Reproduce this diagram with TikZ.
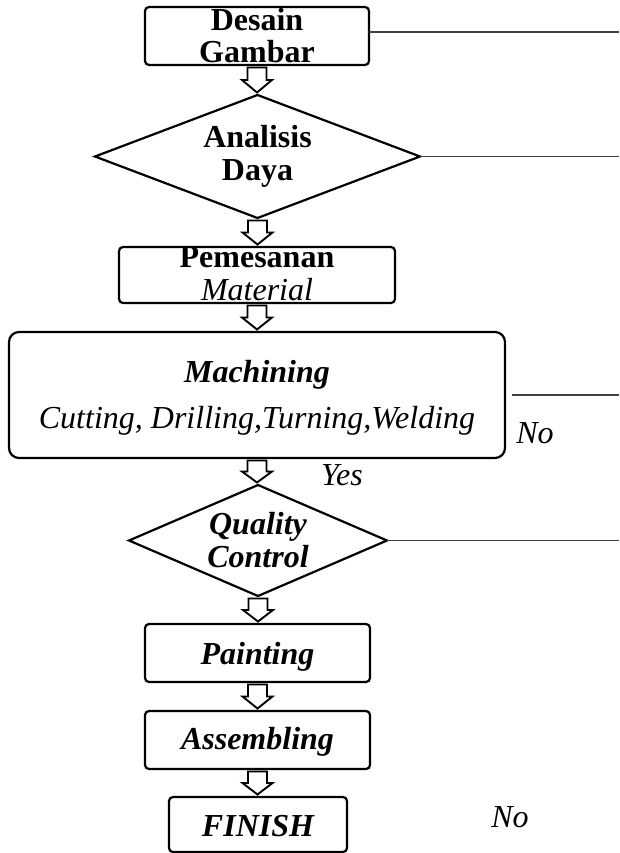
\documentclass[tikz,border=0pt]{standalone}
\usepackage{fontspec}
\setmainfont{Liberation Serif}
\usetikzlibrary{shapes.geometric,calc}
\tikzset{
  txt/.style={font=\fontsize{32}{33}\selectfont},
  procbox/.style={inner sep=0pt, outer sep=0pt, align=center, draw, line width=2.2pt, rounded corners=4pt},
  decision/.style={inner sep=0pt, outer sep=0pt, align=center, diamond, aspect=2.5, draw, line width=2.2pt},
  link/.style={draw=black!75, line width=1.1pt},
  blockarrow/.style={draw, line width=1.9pt, fill=white, line join=miter},
  lbl/.style={inner sep=0pt, anchor=base, font=\fontsize{32}{33}\selectfont\itshape},
}
\newcommand\flowarrow[2]{%
  \draw[blockarrow] let \p1=(#1.south), \p2=(#2.north),
    \n1={\y1-2.5pt}, \n2={\y2+2.5pt}, \n3={(\n1+\n2)/2} in
    (\x1-9.5pt,\n1) -- (\x1+9.5pt,\n1) -- (\x1+9.5pt,\n3) -- (\x1+15pt,\n3)
    -- (\x1,\n2) -- (\x1-15pt,\n3) -- (\x1-9.5pt,\n3) -- cycle;}
\begin{document}
\begin{tikzpicture}[x=1pt,y=-1pt]
\useasboundingbox (0,0) rectangle (619,853);
\fill[white] (0,0) rectangle (619,853);
\coordinate (edge) at (619,0);

\node[procbox, font=\fontsize{32}{32}\selectfont\bfseries, minimum width=224pt, text height=56pt, text depth=2pt] (desain) at (257,36) {Desain\\Gambar};

\node[decision, font=\fontsize{32}{33}\selectfont\bfseries, minimum width=325pt, minimum height=123pt, text height=49pt, text depth=0pt] (analisis) at (257.5,156.5) {Analisis\\Daya};

\node[procbox, txt, minimum width=276pt, text height=53pt, text depth=3pt] (pesan) at (257,275) {\textbf{Pemesanan}\\\textit{Material}};

\node[procbox, txt, rounded corners=10pt, minimum width=496pt, text height=96pt, text depth=30pt] (mach) at (257,395) {\textbf{\textit{Machining}}\\[13pt]\textit{Cutting, Drilling,Turning,Welding}};

\node[decision, font=\fontsize{32}{33}\selectfont\bfseries\itshape, minimum width=258pt, minimum height=111pt, text height=53pt, text depth=0pt] (qc) at (258,540.5) {Quality\\Control};

\node[procbox, font=\fontsize{32}{33}\selectfont\bfseries\itshape, minimum width=225pt, text height=40pt, text depth=18pt] (paint) at (257.5,653) {Painting};

\node[procbox, font=\fontsize{32}{33}\selectfont\bfseries\itshape, minimum width=225pt, text height=38pt, text depth=20pt] (assy) at (257.5,740) {Assembling};

\node[procbox, font=\fontsize{32}{33}\selectfont\bfseries\itshape, minimum width=178pt, text height=39pt, text depth=16pt] (finish) at (258,824.5) {FINISH};

\flowarrow{desain}{analisis}
\flowarrow{analisis}{pesan}
\flowarrow{pesan}{mach}
\flowarrow{mach}{qc}
\flowarrow{qc}{paint}
\flowarrow{paint}{assy}
\flowarrow{assy}{finish}

\draw[link] ([yshift=4pt]desain.east) -- ([yshift=4pt]desain.east -| edge);
\draw[link] (analisis.east) -- (analisis.east -| edge);
\draw[link] ([xshift=7pt]mach.east) -- (mach.east -| edge);
\draw[link] (qc.east) -- (qc.east -| edge);

\node[lbl] (nomach) at (535,443) {No};
\node[lbl] (yesmach) at (342,485) {Yes};
\node[lbl] (nofinish) at (510,827) {No};
\end{tikzpicture}
\end{document}
